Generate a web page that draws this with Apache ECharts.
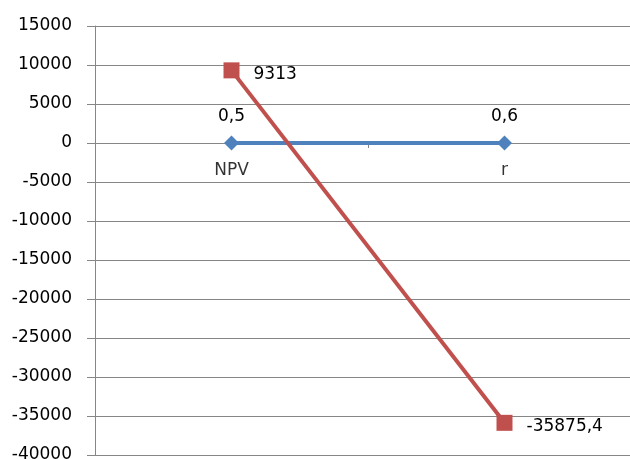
<!DOCTYPE html>
<html>
<head>
    <meta charset="utf-8">
    <title>NPV</title>
    <script src="https://cdn.jsdelivr.net/npm/echarts@6/dist/echarts.min.js"></script>
    <style>
        html, body { margin: 0; padding: 0; background: #fff; }
    </style>
</head>
<body>
    <div id="main" style="width: 630px;height:459px;"></div>
    <script type="text/javascript">
        var categories = ['NPV', 'r'];
        var rateValues = [0.5, 0.6];
        var npvValues = [9313, -35875.4];
        var yTicks = { min: -40000, max: 15000, step: 5000 };

        function comma(v) {
            return String(v).replace('.', ',');
        }

        var myChart = echarts.init(document.getElementById('main'));
        var font = 'DejaVu Sans';

        var option = {
            animation: false,
            grid: { left: 95, top: 26, width: 546, bottom: 4, containLabel: false, outerBoundsMode: 'none' },
            xAxis: {
                type: 'category',
                data: categories,
                boundaryGap: true,
                axisLine: { onZero: true, lineStyle: { color: '#868686', width: 1 } },
                axisTick: { show: true, length: 5, lineStyle: { color: '#868686' } },
                axisLabel: { show: false },
                splitLine: { show: false }
            },
            yAxis: {
                type: 'value',
                min: yTicks.min,
                max: yTicks.max,
                interval: yTicks.step,
                axisLine: { show: true, lineStyle: { color: '#868686', width: 1 } },
                axisTick: { show: true, length: 8, lineStyle: { color: '#868686' } },
                axisLabel: {
                    color: '#000', fontFamily: font, fontSize: 17, margin: 23,
                    formatter: function (v) { return String(v); }
                },
                splitLine: { show: true, lineStyle: { color: '#868686', width: 1 } }
            },
            series: [
                {
                    // category names under the zero line
                    name: 'names',
                    type: 'scatter',
                    data: rateValues,
                    symbolSize: 0,
                    silent: true,
                    z: 1,
                    label: {
                        show: true,
                        position: 'bottom',
                        distance: 19,
                        color: '#000',
                        fontFamily: font,
                        fontSize: 17,
                        formatter: function (p) { return p.name; }
                    }
                },
                {
                    name: 'r',
                    type: 'line',
                    data: rateValues,
                    symbol: 'diamond',
                    symbolSize: 15,
                    itemStyle: { color: '#4f81bd' },
                    lineStyle: { color: '#4f81bd', width: 4 },
                    label: {
                        show: true,
                        position: 'top',
                        distance: 10,
                        color: '#000',
                        fontFamily: font,
                        fontSize: 17,
                        formatter: function (p) { return comma(p.value); }
                    }
                },
                {
                    name: 'NPV',
                    type: 'line',
                    data: npvValues,
                    symbol: 'rect',
                    symbolSize: 16,
                    itemStyle: { color: '#c0504d' },
                    lineStyle: { color: '#c0504d', width: 4 },
                    label: {
                        show: true,
                        position: 'right',
                        distance: 14,
                        offset: [0, 4],
                        color: '#000',
                        fontFamily: font,
                        fontSize: 17,
                        formatter: function (p) { return comma(p.value); }
                    }
                }
            ]
        };
        myChart.setOption(option);
    </script>
</body>
</html>
